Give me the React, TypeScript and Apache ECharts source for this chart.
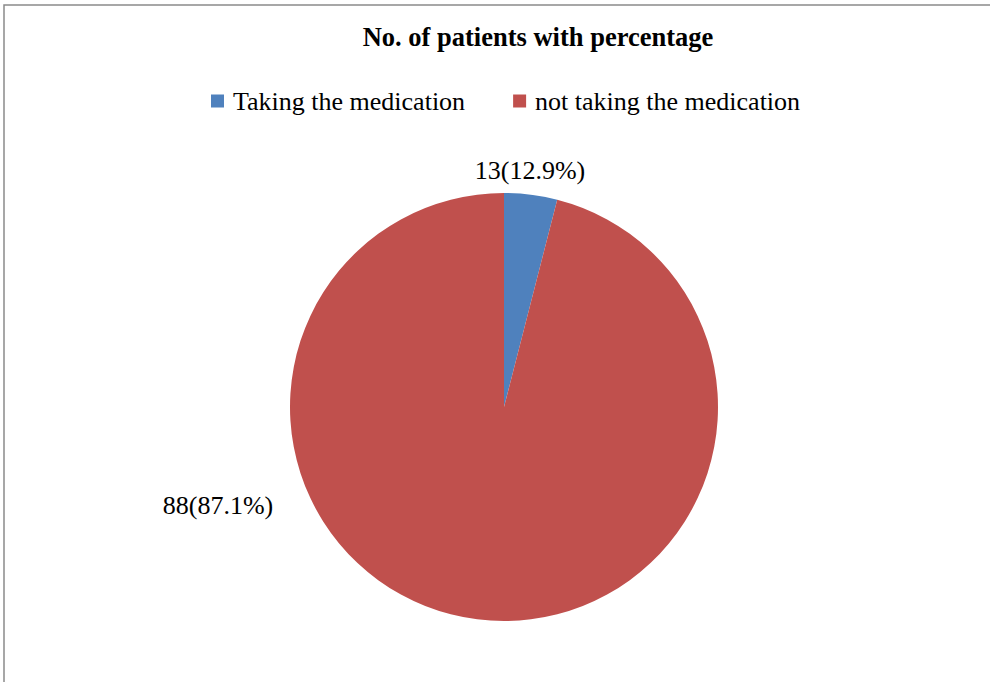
import React, { useEffect, useRef } from "react";
import * as echarts from "echarts";

const categories = ["Taking the medication", "not taking the medication"];
const patientCounts = [13, 88];
const percentLabels = ["12.9%", "87.1%"];
// slice shares as drawn in the picture (angle of the blue slice ~14°)
const sliceShares = [4, 96];
const colors = ["#4F81BD", "#C0504D"];
const labelPositions = [
  [530, 170],
  [218, 505],
];

export default function App() {
  const ref = useRef<HTMLDivElement>(null);
  useEffect(() => {
    document.body.style.margin = "0";
    const chart = echarts.init(ref.current!, null, { renderer: "svg" });
    const font = "Liberation Serif";
    chart.setOption({
      animation: false,
      backgroundColor: "#ffffff",
      title: {
        text: "No. of patients with percentage",
        left: 533,
        textAlign: "center",
        top: 18,
        textStyle: { fontFamily: font, fontSize: 26.5, fontWeight: "bold", color: "#000" },
      },
      legend: {
        left: 206,
        top: 83,
        icon: "rect",
        itemWidth: 13,
        itemHeight: 13,
        itemGap: 48,
        textStyle: { fontFamily: font, fontSize: 26, color: "#000", padding: [0, 0, 0, 4] },
        data: categories,
      },
      graphic: [
        {
          type: "rect",
          shape: { x: 4, y: 5, width: 1200, height: 900 },
          style: { fill: "none", stroke: "#8a8a8a", lineWidth: 1.5 },
          silent: true,
        },
      ],
      series: [
        {
          type: "pie",
          center: [504, 407],
          radius: 214,
          startAngle: 90,
          clockwise: true,
          silent: true,
          itemStyle: { borderWidth: 0 },
          label: {
            show: true,
            position: "outside",
            fontFamily: font,
            fontSize: 26,
            color: "#000",
            formatter: (p: any) => `${patientCounts[p.dataIndex]}(${percentLabels[p.dataIndex]})`,
          },
          labelLine: { show: false },
          labelLayout: (p: any) => ({
            x: labelPositions[p.dataIndex][0],
            y: labelPositions[p.dataIndex][1],
            align: "center",
            verticalAlign: "middle",
          }),
          data: categories.map((name, i) => ({
            name,
            value: sliceShares[i],
            itemStyle: { color: colors[i] },
          })),
        },
      ],
    });
    return () => chart.dispose();
  }, []);
  return <div ref={ref} style={{ width: 990, height: 682 }} />;
}
